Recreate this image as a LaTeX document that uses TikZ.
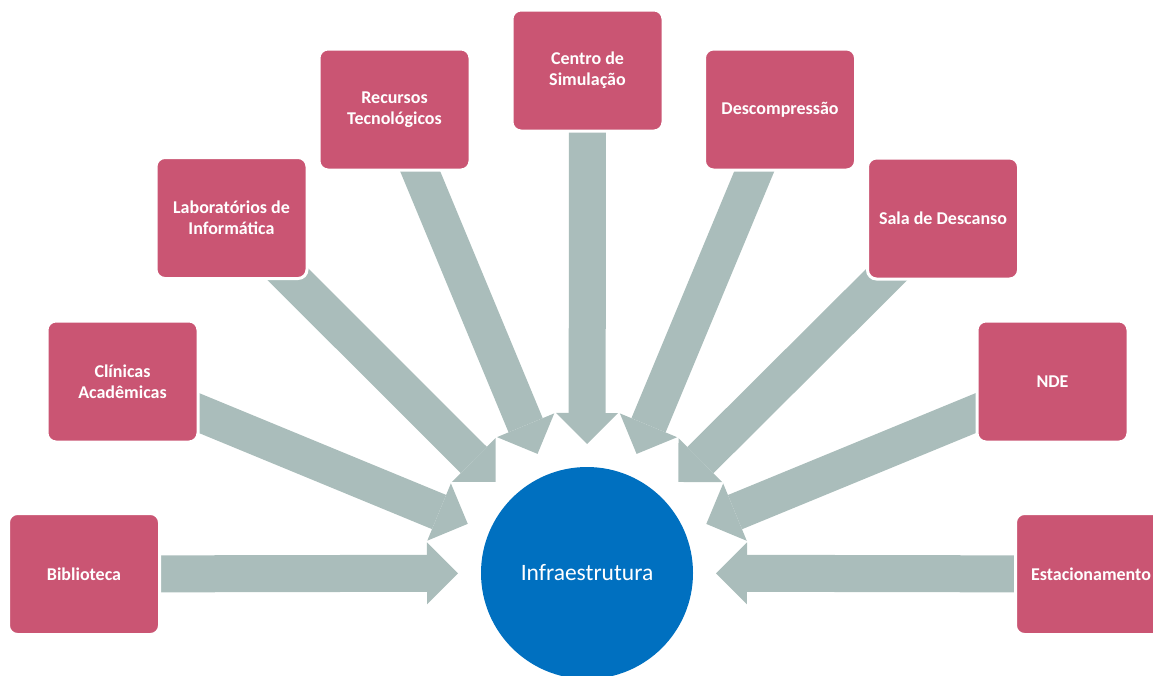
\documentclass[tikz,border=0pt]{standalone}
\usepackage{fontspec}
\setmainfont{Carlito}
\usetikzlibrary{arrows.meta,calc,backgrounds}
\definecolor{boxpink}{RGB}{202,85,115}
\definecolor{arrowgray}{RGB}{170,189,187}
\definecolor{hubblue}{RGB}{0,112,192}

\begin{document}
\begin{tikzpicture}[
        x=1pt,
        y=-1pt,
        every node/.style={font=\fontsize{18}{21}\selectfont\bfseries, text=white},
        resource/.style={
            draw=white,
            line width=3pt,
            fill=boxpink,
            rounded corners=9pt,
            minimum width=151pt,
            minimum height=121pt,
            align=center,
            inner sep=2pt
        },
        hub/.style={
            circle,
            fill=hubblue,
            minimum size=212pt,
            inner sep=0pt,
            font=\fontsize{23.5}{28}\selectfont
        },
        feed/.style={
            draw=arrowgray,
            line width=37pt,
            -{Triangle[width=62pt,length=31pt,line width=0pt]}
        }
    ]
    \useasboundingbox (0,0) rectangle (1153,675);

    % hub, bottom centre
    \node[hub] (infra) at (587,573) {Infraestrutura};

    % boxes on the fan, left to right
    \node[resource] (bib) at (84,574) {Biblioteca};
    \node[resource] (cli) at (122.5,381.5) {Clínicas\\Acadêmicas};
    \node[resource] (lab) at (231.5,218) {Laboratórios de\\Informática};
    \node[resource] (rec) at (394.5,109.5) {Recursos\\Tecnológicos};
    \node[resource] (cen) at (587.5,70.5) {Centro de\\Simulação};
    \node[resource] (des) at (780,109.5) {Descompressão};
    \node[resource] (sal) at (943,218.5) {Sala de Descanso};
    \node[resource] (nde) at (1052.5,381.5) {NDE};
    \node[resource] (est) at (1091,574) {Estacionamento};

    % block arrows behind the boxes, tips 129 from the hub centre
    \begin{scope}[on background layer]
        \foreach \src in {bib,cli,lab,rec,cen,des,sal,nde,est}
            \draw[feed] (\src.center) -- ($(infra.center)!129pt!(\src.center)$);
    \end{scope}

\end{tikzpicture}
\end{document}
